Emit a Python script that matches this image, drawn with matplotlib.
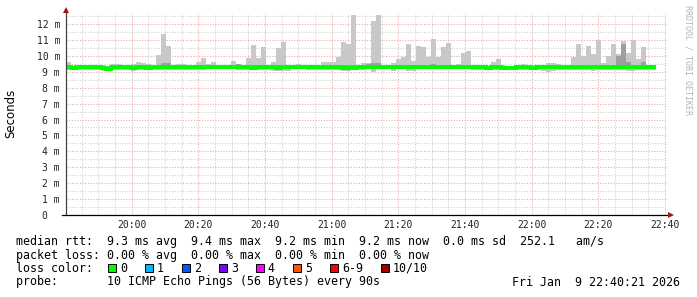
import numpy as np
import matplotlib
matplotlib.use('Agg')
import matplotlib.pyplot as plt
from matplotlib.patches import Rectangle
from matplotlib.ticker import MultipleLocator, FixedLocator

W, H = 697, 297

# ---------------- data ----------------
start_min = 40.35   # minutes after 19:00 (19:40:21)
step_min = 1.5      # 90 s per step

rtt_max = [9.59, 9.36, 9.44, 9.44, 9.44, 9.44, 9.44, 9.44, 9.35, 9.48,
           9.48, 9.40, 9.40, 9.48, 9.63, 9.57, 9.48, 9.35, 10.05, 11.37,
           10.62, 9.30, 9.48, 9.48, 9.30, 9.35, 9.63, 9.88, 9.48, 9.63,
           9.42, 9.42, 9.42, 9.69, 9.48, 9.35, 9.88, 10.70, 9.88, 10.57,
           9.30, 9.63, 10.51, 10.87, 9.35, 9.35, 9.48, 9.42, 9.42, 9.42,
           9.42, 9.63, 9.63, 9.63, 9.95, 10.87, 10.76, 12.56, 9.42, 9.52,
           9.52, 12.19, 12.56, 9.42, 9.35, 9.52, 9.80, 9.95, 10.74, 9.69,
           10.62, 10.55, 9.95, 11.05, 9.95, 10.55, 10.83, 9.42, 9.48, 10.15,
           10.32, 9.35, 9.42, 9.30, 9.30, 9.63, 9.80, 9.42, 9.35, 9.35,
           9.30, 9.48, 9.42, 9.30, 9.26, 9.42, 9.57, 9.57, 9.48, 9.42,
           9.42, 9.95, 10.74, 9.99, 10.62, 10.11, 10.99, 9.57, 9.99, 10.74,
           10.11, 10.93, 10.20, 10.99, 9.80, 10.55, 9.42, 9.35]

rtt_p9 = [9.42, 9.32, 9.36, 9.38, 9.36, 9.44, 9.40, 9.36, 9.30, 9.36,
          9.40, 9.36, 9.34, 9.38, 9.40, 9.38, 9.42, 9.32, 9.40, 9.57,
          9.57, 9.28, 9.38, 9.34, 9.28, 9.32, 9.36, 9.40, 9.32, 9.44,
          9.36, 9.34, 9.36, 9.40, 9.48, 9.33, 9.38, 9.40, 9.36, 9.40,
          9.28, 9.36, 9.42, 9.38, 9.32, 9.30, 9.40, 9.34, 9.34, 9.36,
          9.36, 9.40, 9.38, 9.36, 9.44, 9.40, 9.42, 9.40, 9.34, 9.45,
          9.50, 9.52, 9.54, 9.36, 9.32, 9.42, 9.40, 9.44, 9.40, 9.44,
          9.40, 9.42, 9.40, 9.48, 9.38, 9.40, 9.38, 9.36, 9.38, 9.45,
          9.42, 9.32, 9.36, 9.28, 9.28, 9.38, 9.40, 9.36, 9.30, 9.32,
          9.30, 9.42, 9.38, 9.28, 9.26, 9.38, 9.44, 9.40, 9.36, 9.34,
          9.36, 9.42, 9.40, 9.38, 9.42, 9.38, 9.40, 9.36, 9.40, 9.42,
          10.02, 10.76, 9.60, 9.45, 9.40, 9.60, 9.36, 9.32]

rtt_median = [9.32, 9.22, 9.27, 9.27, 9.28, 9.27, 9.27, 9.26, 9.20, 9.27,
              9.27, 9.28, 9.27, 9.26, 9.28, 9.28, 9.24, 9.30, 9.28, 9.28,
              9.29, 9.28, 9.28, 9.27, 9.28, 9.28, 9.27, 9.27, 9.30, 9.32,
              9.30, 9.30, 9.31, 9.30, 9.28, 9.28, 9.28, 9.26, 9.28, 9.28,
              9.28, 9.28, 9.26, 9.27, 9.30, 9.31, 9.30, 9.30, 9.27, 9.27,
              9.27, 9.27, 9.27, 9.28, 9.27, 9.25, 9.22, 9.26, 9.28, 9.28,
              9.30, 9.30, 9.30, 9.30, 9.31, 9.30, 9.30, 9.30, 9.30, 9.30,
              9.30, 9.31, 9.30, 9.32, 9.32, 9.32, 9.32, 9.30, 9.30, 9.33,
              9.33, 9.28, 9.28, 9.28, 9.22, 9.27, 9.27, 9.25, 9.25, 9.25,
              9.28, 9.28, 9.28, 9.24, 9.28, 9.28, 9.28, 9.28, 9.29, 9.28,
              9.28, 9.28, 9.27, 9.27, 9.27, 9.27, 9.27, 9.28, 9.27, 9.27,
              9.27, 9.27, 9.27, 9.27, 9.27, 9.27, 9.27, 9.27]

rtt_p2 = [9.20, 9.12, 9.20, 9.20, 9.20, 9.20, 9.20, 9.18, 9.12, 9.20,
          9.20, 9.20, 9.20, 9.18, 9.20, 9.20, 9.18, 9.22, 9.20, 9.20,
          9.20, 9.20, 9.20, 9.20, 9.20, 9.20, 9.20, 9.20, 9.22, 9.24,
          9.22, 9.22, 9.22, 9.22, 9.20, 9.20, 9.20, 9.18, 9.20, 9.20,
          9.20, 9.18, 9.16, 9.18, 9.22, 9.22, 9.22, 9.22, 9.20, 9.20,
          9.20, 9.20, 9.20, 9.20, 9.20, 9.16, 9.12, 9.18, 9.20, 9.20,
          9.22, 9.16, 9.22, 9.22, 9.22, 9.18, 9.22, 9.22, 9.18, 9.20,
          9.22, 9.22, 9.22, 9.24, 9.24, 9.24, 9.24, 9.22, 9.22, 9.25,
          9.25, 9.20, 9.20, 9.20, 9.12, 9.20, 9.20, 9.18, 9.18, 9.18,
          9.20, 9.20, 9.20, 9.16, 9.20, 9.16, 9.16, 9.18, 9.20, 9.20,
          9.20, 9.20, 9.20, 9.20, 9.20, 9.16, 9.20, 9.20, 9.20, 9.20,
          9.20, 9.20, 9.16, 9.16, 9.20, 9.20, 9.20, 9.20]

rtt_min = [9.14, 9.08, 9.14, 9.14, 9.14, 9.14, 9.14, 9.05, 9.02, 9.14,
           9.14, 9.14, 9.14, 9.02, 9.14, 9.14, 9.14, 9.10, 9.14, 9.14,
           9.14, 9.14, 9.14, 9.14, 9.14, 9.14, 9.14, 9.14, 9.16, 9.18,
           9.16, 9.16, 9.16, 9.16, 9.14, 9.14, 9.14, 9.12, 9.14, 9.14,
           9.14, 9.05, 9.03, 9.03, 9.06, 9.16, 9.16, 9.16, 9.14, 9.14,
           9.14, 9.14, 9.14, 9.14, 9.14, 9.07, 9.04, 9.12, 9.14, 9.14,
           9.16, 9.00, 9.16, 9.16, 9.16, 9.05, 9.16, 9.16, 9.02, 9.03,
           9.16, 9.16, 9.16, 9.18, 9.18, 9.18, 9.18, 9.16, 9.16, 9.19,
           9.19, 9.14, 9.14, 9.14, 9.08, 9.14, 9.14, 9.12, 9.12, 9.12,
           9.14, 9.14, 9.14, 9.10, 9.14, 9.02, 9.00, 9.03, 9.14, 9.14,
           9.14, 9.14, 9.14, 9.14, 9.14, 9.02, 9.14, 9.14, 9.14, 9.14,
           9.14, 9.14, 9.03, 9.02, 9.14, 9.14, 9.14, 9.14]

y_ticks = list(range(13))
y_tick_labels = ["0  "] + [f"{v} m" for v in range(1, 13)]
x_ticks = [60, 80, 100, 120, 140, 160, 180, 200, 220]
x_tick_labels = ["20:00", "20:20", "20:40", "21:00", "21:20",
                 "21:40", "22:00", "22:20", "22:40"]

legend_rows = [
    "median rtt:  9.3 ms avg  9.4 ms max  9.2 ms min  9.2 ms now  0.0 ms sd  252.1   am/s",
    "packet loss: 0.00 % avg  0.00 % max  0.00 % min  0.00 % now",
    "loss color:",
    "probe:       10 ICMP Echo Pings (56 Bytes) every 90s",
]
loss_labels = ["0", "1", "2", "3", "4", "5", "6-9", "10/10"]
loss_colors = ["#00ff00", "#00b8ff", "#0059ff", "#7e00ff",
               "#ff00ff", "#ff5500", "#ff0000", "#a10000"]
date_text = "Fri Jan  9 22:40:21 2026"

# ---------------- figure ----------------
MONO = "DejaVu Sans Mono"
fig = plt.figure(figsize=(W / 100, H / 100), dpi=100)
fig.patch.set_facecolor("white")
ax = fig.add_axes([66 / W, 82 / H, 600 / W, 201 / H])

n = len(rtt_median)
edges = start_min + step_min * np.arange(n + 1)

def sv(a):
    a = np.asarray(a, dtype=float)
    return np.append(a, a[-1])

ax.fill_between(edges, sv(rtt_min), sv(rtt_max), step="post",
                color="#c8c8c8", lw=0, zorder=2)
ax.fill_between(edges, sv(rtt_p2), sv(rtt_p9), step="post",
                color="#9e9e9e", lw=0, zorder=3)
ax.plot(edges, sv(rtt_median), drawstyle="steps-post", color="#00ff00",
        lw=2.9, zorder=4, solid_joinstyle="miter", solid_capstyle="butt")

ax.set_xlim(start_min, start_min + 180)
ax.set_ylim(0, 12.63)

ax.set_yticks(y_ticks)
ax.set_yticklabels(y_tick_labels, family=MONO, fontsize=7, color="#222222")
ax.yaxis.set_minor_locator(FixedLocator([v + 0.5 for v in range(13)]))
ax.set_xticks(x_ticks)
ax.set_xticklabels(x_tick_labels, family=MONO, fontsize=7, color="#222222")
ax.xaxis.set_minor_locator(MultipleLocator(5))
ax.tick_params(which="both", length=0)
ax.tick_params(axis="y", pad=4.3)
ax.tick_params(axis="x", pad=3.6)

ax.set_axisbelow(True)
ax.grid(which="major", color="#eaa4a4", ls=(0, (1, 1.6)), lw=0.75)
ax.grid(which="minor", color="#cfcfcf", ls=(0, (1, 1.6)), lw=0.75)

for s in ax.spines.values():
    s.set_visible(False)

# axis lines and arrows
ax.plot([0, 0], [0, 1.012], transform=ax.transAxes, color="#404040",
        lw=0.9, clip_on=False, zorder=6)
ax.plot([-0.007, 1.004], [0, 0], transform=ax.transAxes, color="#000000",
        lw=0.9, clip_on=False, zorder=6)
ax.plot([0], [1.018], marker="^", markersize=4.2, color="#a01818",
        transform=ax.transAxes, clip_on=False, zorder=7, mew=0)
ax.plot([1.0075], [0], marker=">", markersize=4.2, color="#a01818",
        transform=ax.transAxes, clip_on=False, zorder=7, mew=0)

# y label
fig.text(11 / W, 1 - 113 / H, "Seconds", rotation=90, ha="center",
         va="center", fontsize=8.5, family="DejaVu Sans", color="#000000")

# watermark
fig.text(688 / W, 1 - 60 / H, "RRDTOOL / TOBI OETIKER", rotation=-90,
         ha="center", va="center", fontsize=6, family=MONO, color="#b4b4b4")

# legend rows
row_y = [241, 255, 268, 282]
for txt, yy in zip(legend_rows, row_y):
    fig.text(16 / W, 1 - yy / H, txt, ha="left", va="center",
             fontsize=8.4, family=MONO, color="#000000")

# loss colour boxes
char_w = 7.02
bx = 108.3
for lab, col in zip(loss_labels, loss_colors):
    fig.patches.append(Rectangle((bx / W, 1 - 272 / H), 8 / W, 8 / H,
                                 transform=fig.transFigure, facecolor=col,
                                 edgecolor="black", lw=0.7))
    lx = bx + 11.5
    fig.text(lx / W, 1 - 268 / H, lab, ha="left", va="center",
             fontsize=8.4, family=MONO, color="#000000")
    bx = lx + len(lab) * char_w + 18.5

fig.text(680 / W, 1 - 282 / H, date_text, ha="right", va="center",
         fontsize=8.4, family=MONO, color="#000000")

fig.savefig("out.png", dpi=100, facecolor="white")
